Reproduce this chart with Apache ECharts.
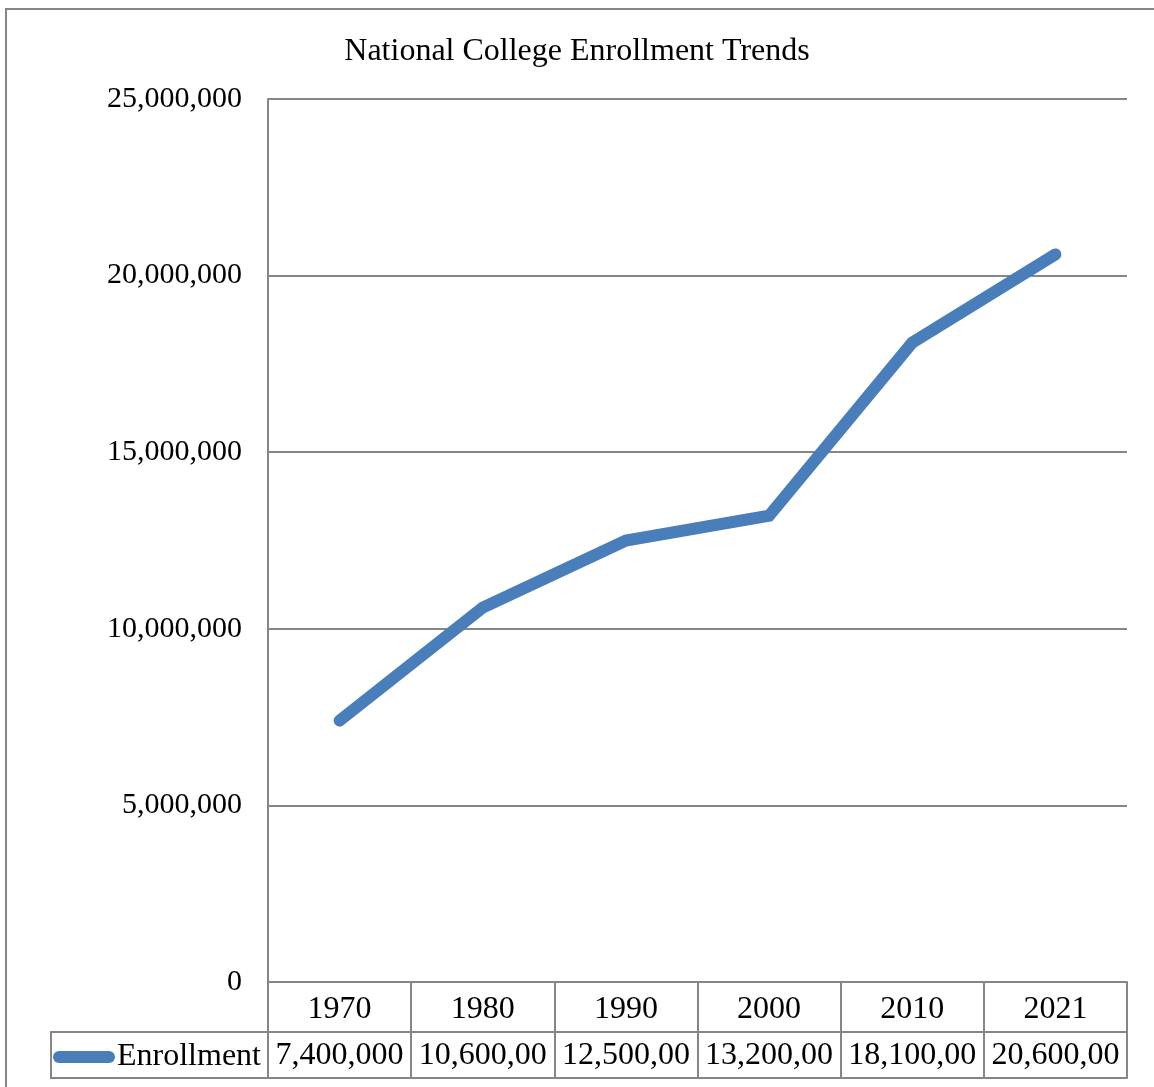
<!DOCTYPE html>
<html>
<head>
<meta charset="utf-8">
<script src="https://cdn.jsdelivr.net/npm/echarts@6/dist/echarts.min.js"></script>
<style>
html,body{margin:0;padding:0;background:#fff;}
#chart{width:1154px;height:1087px;}
</style>
</head>
<body>
<div id="chart"></div>
<script>
const titleText = 'National College Enrollment Trends';
const seriesName = 'Enrollment';
const years = ['1970', '1980', '1990', '2000', '2010', '2021'];
const enrollment = [7400000, 10600000, 12500000, 13200000, 18100000, 20600000];
const yTicks = { min: 0, max: 25000000, interval: 5000000 };

const FONT = "'Liberation Serif', 'Times New Roman', serif";
const GRID_COLOR = '#868686';
const LINE_COLOR = '#4A7EBB';
const fmt = v => Number(v).toLocaleString('en-US');
// data table cells clip the longer values (as in the reference)
const cellText = v => fmt(v).slice(0, 9);

const chart = echarts.init(document.getElementById('chart'), null, { renderer: 'canvas' });
chart.setOption({
  animation: false,
  backgroundColor: '#fff',
  title: {
    text: titleText,
    left: 'center',
    top: 31,
    textStyle: { fontFamily: FONT, fontSize: 32, fontWeight: 'normal', color: '#000' }
  },
  legend: {
    left: 53,
    top: 1041,
    padding: 0,
    itemWidth: 62,
    itemHeight: 13,
    icon: 'path://M6,0 H56 A6,6 0 0 1 56,12 H6 A6,6 0 0 1 6,0 Z',
    textStyle: { fontFamily: FONT, fontSize: 32, color: '#000', padding: [0, 0, 0, -3] },
    data: [seriesName]
  },
  grid: { left: 268, top: 99, right: 27, bottom: 105, containLabel: false },
  xAxis: [
    {
      type: 'category',
      data: years,
      boundaryGap: true,
      axisLine: { show: true, lineStyle: { color: GRID_COLOR, width: 2 } },
      axisTick: { show: true, length: 96, interval: 0, lineStyle: { color: GRID_COLOR, width: 2 } },
      axisLabel: { interval: 0, fontFamily: FONT, fontSize: 32, color: '#000', margin: 12 },
      splitLine: { show: false }
    },
    {
      type: 'category',
      data: years,
      position: 'bottom',
      offset: 50,
      boundaryGap: true,
      axisLine: { show: true, lineStyle: { color: GRID_COLOR, width: 2 } },
      axisTick: { show: false },
      axisLabel: {
        interval: 0, hideOverlap: false,
        fontFamily: FONT, fontSize: 32, color: '#000', margin: 8,
        formatter: (val, idx) => cellText(enrollment[idx])
      }
    },
    {
      type: 'category',
      data: years,
      position: 'bottom',
      offset: 96,
      boundaryGap: true,
      axisLine: { show: true, lineStyle: { color: GRID_COLOR, width: 2 } },
      axisTick: { show: false },
      axisLabel: { show: false }
    }
  ],
  yAxis: {
    type: 'value',
    min: yTicks.min,
    max: yTicks.max,
    interval: yTicks.interval,
    axisLine: { show: true, lineStyle: { color: GRID_COLOR, width: 2 } },
    axisTick: { show: false },
    axisLabel: { fontFamily: FONT, fontSize: 30, color: '#000', margin: 26, padding: [6, 0, 0, 0], formatter: v => fmt(v) },
    splitLine: { show: true, lineStyle: { color: GRID_COLOR, width: 2 } }
  },
  graphic: [
    {
      type: 'rect',
      shape: { x: 6, y: 9, width: 1160, height: 1100 },
      style: { fill: 'none', stroke: GRID_COLOR, lineWidth: 2 },
      silent: true, z: -1
    },
    {
      type: 'rect',
      shape: { x: 51, y: 1032, width: 217, height: 46 },
      style: { fill: 'none', stroke: GRID_COLOR, lineWidth: 2 },
      silent: true
    }
  ],
  series: [{
    name: seriesName,
    type: 'line',
    data: enrollment,
    showSymbol: false,
    symbol: 'none',
    color: LINE_COLOR,
    lineStyle: { color: LINE_COLOR, width: 12, cap: 'round', join: 'miter' }
  }]
});
</script>
</body>
</html>
